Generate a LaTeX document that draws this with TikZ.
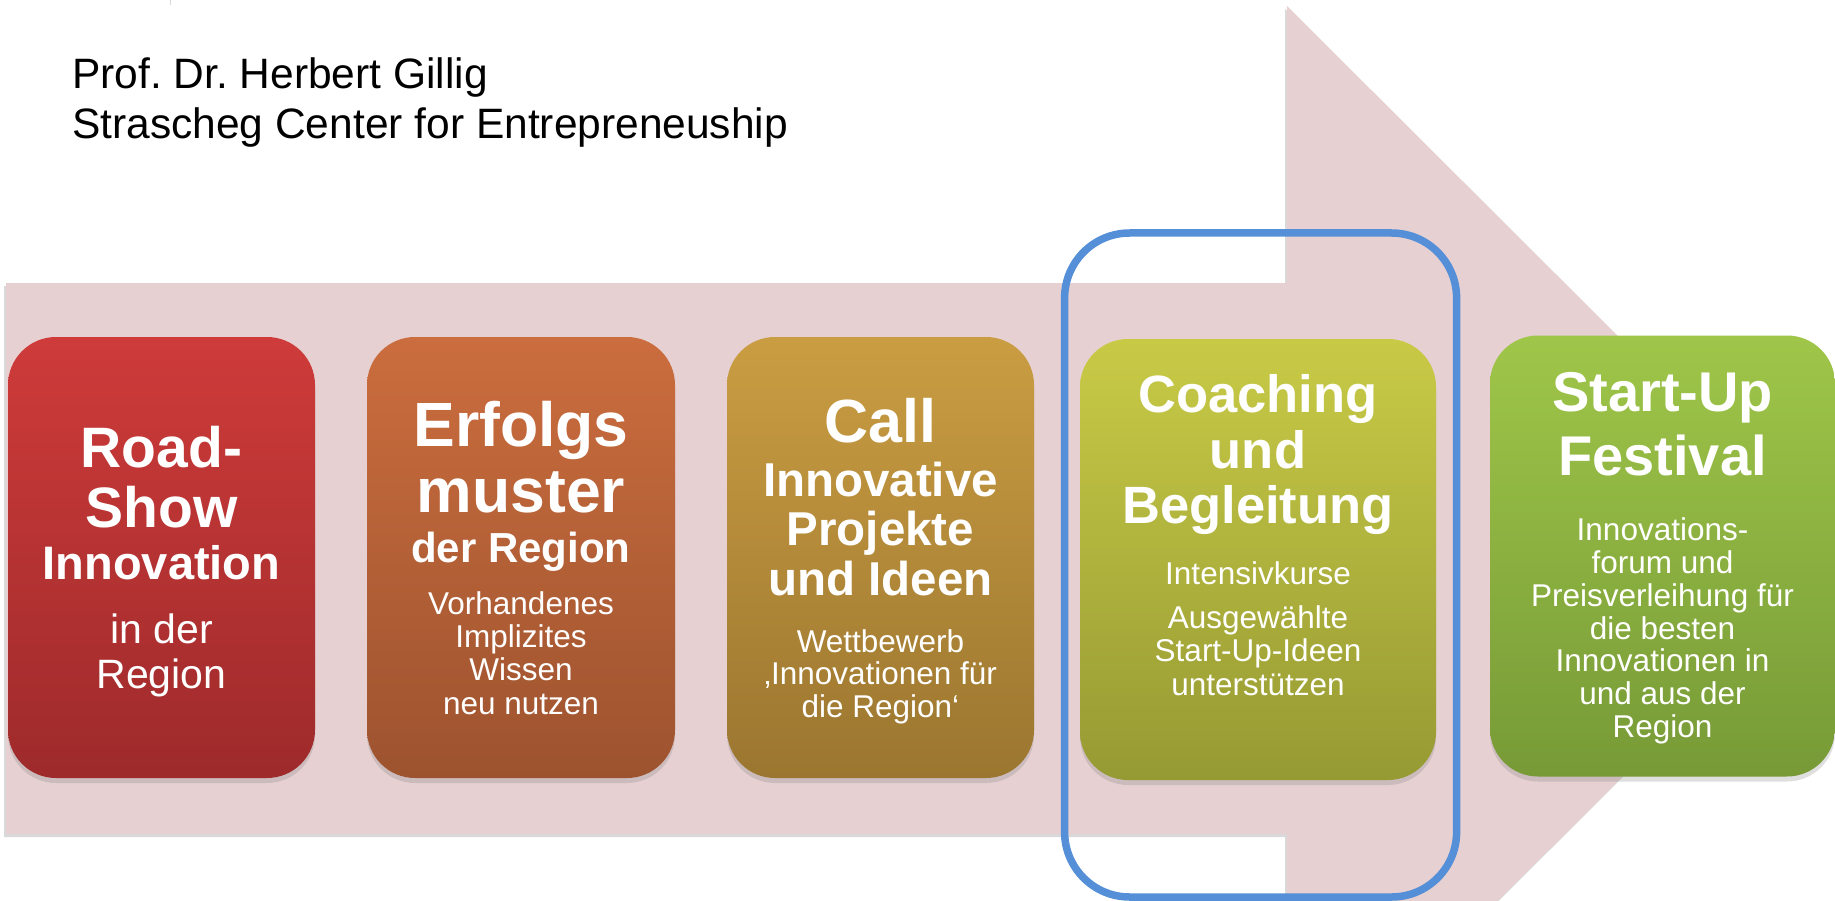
\documentclass[tikz,border=0pt]{standalone}
\usepackage{fontspec}
\setmainfont{Liberation Sans}
\usetikzlibrary{positioning, shadows}

\definecolor{arrowpink}{HTML}{E6D0D1}
\definecolor{framblue}{HTML}{558FD7}
\definecolor{s1top}{HTML}{CE3B3A}
\definecolor{s1bot}{HTML}{9E2A2B}
\definecolor{s2top}{HTML}{CB6D3E}
\definecolor{s2bot}{HTML}{9D532F}
\definecolor{s3top}{HTML}{CA9D42}
\definecolor{s3bot}{HTML}{9B7630}
\definecolor{s4top}{HTML}{C8CA46}
\definecolor{s4bot}{HTML}{969A33}
\definecolor{s5top}{HTML}{9FC649}
\definecolor{s5bot}{HTML}{779A37}

\begin{document}
\frenchspacing
\begin{tikzpicture}[
  x=1pt, y=-1pt,
  stage/.style={
    rounded corners=48pt, minimum width=#1, minimum height=441pt,
    inner sep=0pt,
    drop shadow={shadow xshift=0pt, shadow yshift=-5pt, opacity=0.25}
  },
  hd/.style 2 args={
    text=white, align=center, inner sep=0pt,
    font=\bfseries\fontsize{#1}{#2}\selectfont
  },
  bd/.style 2 args={
    text=white, align=center, inner sep=0pt,
    font=\fontsize{#1}{#2}\selectfont
  }
]
  \useasboundingbox (0,0) rectangle (1835,901);
  \clip (0,0) rectangle (1835,901);
  \fill[black!15] (169.5,0) rectangle (170.5,5);
  % big arrow in the back
  \fill[arrowpink, drop shadow={shadow xshift=-2pt, shadow yshift=-3pt, opacity=0.3}]
    (6,283) -- (1287,283) -- (1287,6) -- (1841,558.5)
    -- (1287,1111) -- (1287,834) -- (6,834) -- cycle;
  \node[anchor=north west, align=left, inner sep=0pt,
    font=\fontsize{42.5}{50}\selectfont] (title) at (72,57.5)
    {Prof. Dr. Herbert Gillig\\Strascheg Center for Entrepreneuship};
  \node[draw=framblue, line width=7.5pt, rounded corners=65pt,
    minimum width=392pt, minimum height=664pt] (focus) at (1260.6,565) {};
  \foreach \n/\x/\y/\w in {s1/161.5/557.5/307, s2/521/557.5/308,
      s3/880.5/557.5/307, s4/1258/559.5/356, s5/1662.5/556/345} {
    \node[stage=\w pt, top color=\n top, bottom color=\n bot] (\n) at (\x,\y) {};
  }
  % Road-Show
  \node[hd={57}{60}, below=89.2pt of s1.north] (s1a) {Road-\\Show};
  \node[hd={47}{50}, below=208.3pt of s1.north] (s1b) {Innovation};
  \node[bd={41}{45}, below=276.6pt of s1.north] (s1c) {in der\\Region};
  % Erfolgsmuster
  \node[hd={62.5}{66}, below=64.5pt of s2.north] (s2a) {Erfolgs\\muster};
  \node[hd={42}{45}, below=194.9pt of s2.north] (s2b) {der Region};
  \node[bd={31.5}{33.3}, below=254.4pt of s2.north] (s2c)
    {Vorhandenes\\Implizites\\Wissen\\neu nutzen};
  % Call
  \node[hd={61}{64}, below=61.6pt of s3.north] (s3a) {Call};
  \node[hd={47.5}{49.5}, below=125pt of s3.north] (s3b)
    {Innovative\\Projekte\\und Ideen};
  \node[bd={31.5}{32.6}, below=292.4pt of s3.north] (s3c)
    {Wettbewerb\\‚Innovationen für\\die Region‘};
  % Coaching
  \node[hd={52.5}{55.5}, below=35.8pt of s4.north] (s4a)
    {Coaching\\und\\Begleitung};
  \node[bd={31.5}{33.5}, below=222.4pt of s4.north] (s4b) {Intensivkurse};
  \node[bd={31.5}{33.5}, below=266.4pt of s4.north] (s4c)
    {Ausgewählte\\Start-Up-Ideen\\unterstützen};
  % Festival
  \node[hd={56}{64}, below=37.2pt of s5.north] (s5a) {Start-Up\\Festival};
  \node[bd={31.5}{32.8}, below=182.4pt of s5.north] (s5b)
    {Innovations-\\forum und\\Preisverleihung für\\die besten\\Innovationen in\\und aus der\\Region};
\end{tikzpicture}
\end{document}
